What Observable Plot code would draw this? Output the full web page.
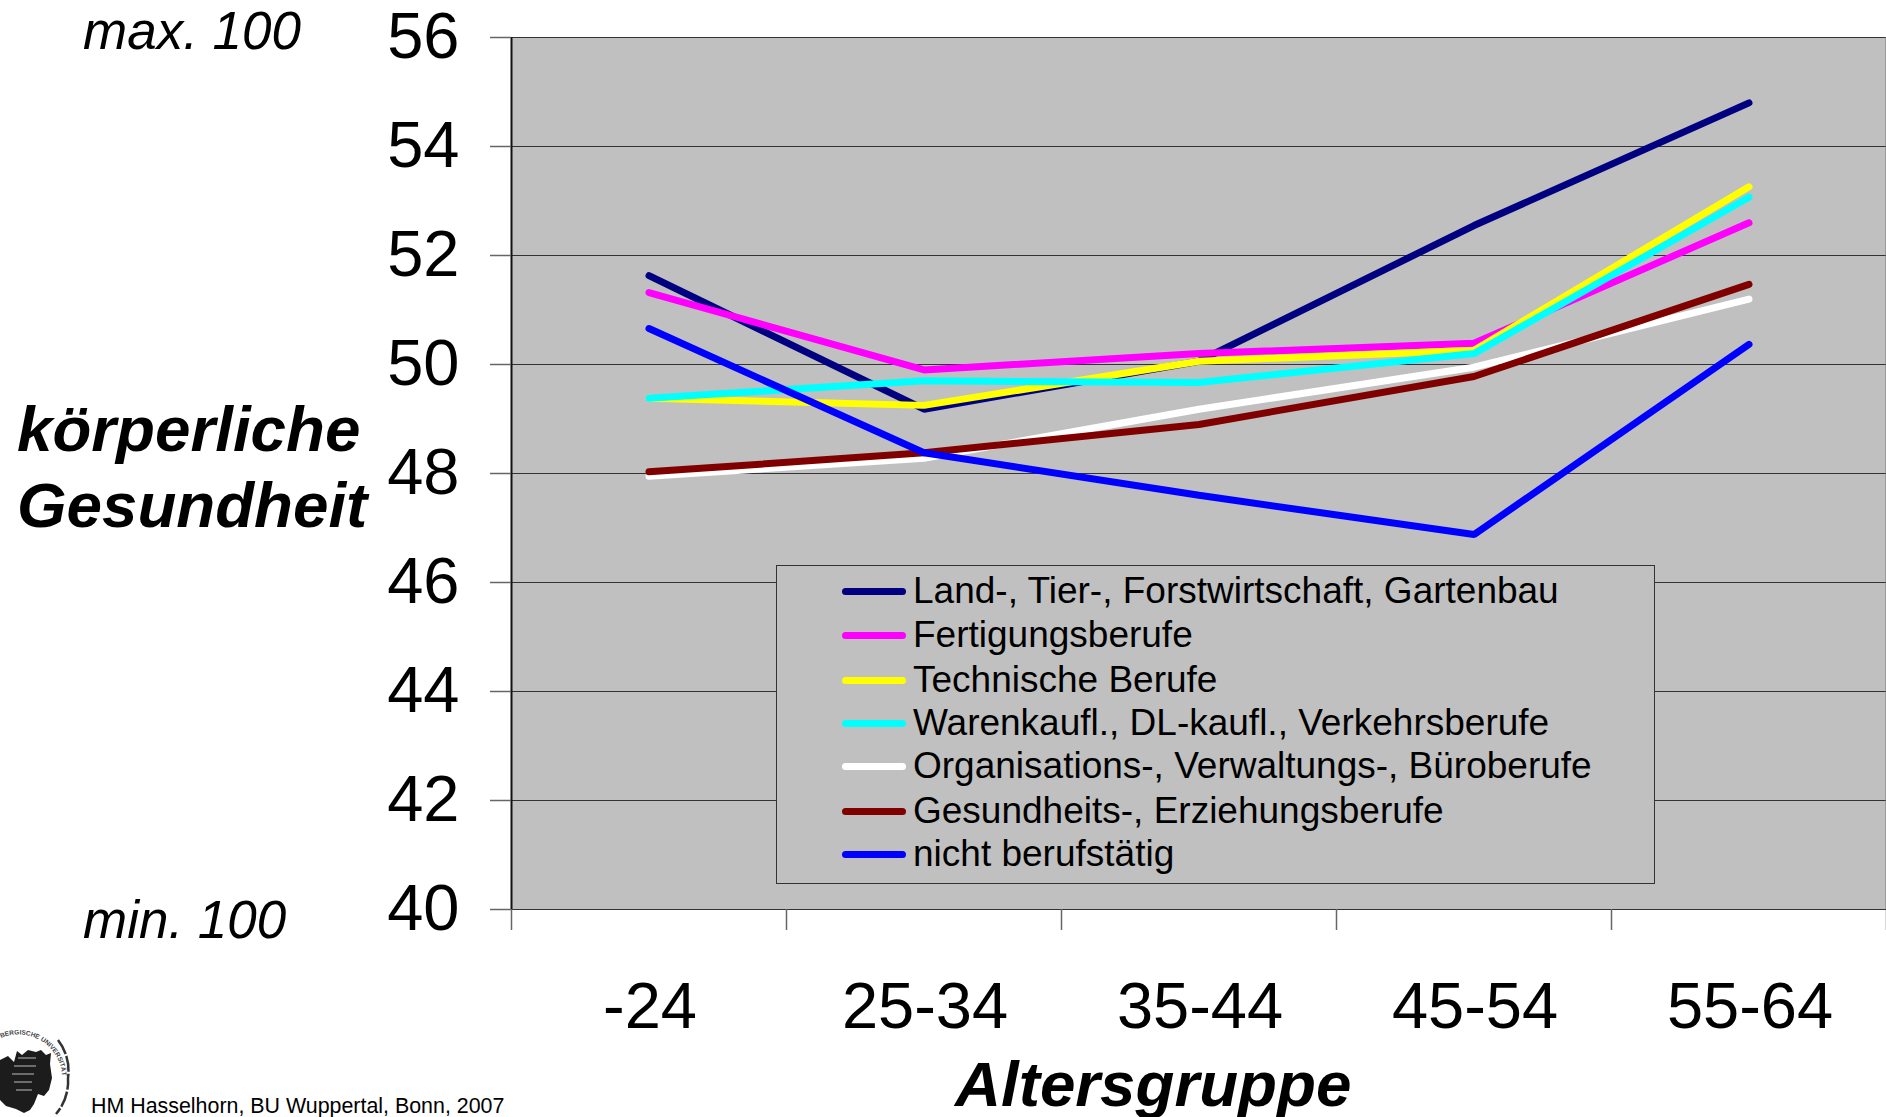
<!DOCTYPE html>
<html lang="de">
<head>
<meta charset="utf-8">
<script src="https://cdn.jsdelivr.net/npm/d3@7"></script>
<script src="https://cdn.jsdelivr.net/npm/@observablehq/plot@0.6"></script>
<style>
html,body{margin:0;padding:0;background:#fff;width:1886px;height:1117px;overflow:hidden;font-family:"Liberation Sans",Arial,sans-serif;color:#000}
#wrap{position:relative;width:1886px;height:1117px}
#wrap svg{display:block}
.t{position:absolute;white-space:nowrap;line-height:1}
.bi{font-weight:bold;font-style:italic;font-size:63.7px}
.i{font-style:italic;font-size:53px}
#legend{position:absolute;left:776px;top:565px;width:879px;height:319px;border:1.5px solid #333;box-sizing:border-box;background:#c0c0c0}
.row{position:absolute;left:65px;height:44px;display:flex;align-items:center;font-size:37px;white-space:nowrap}
.sw{width:64px;height:7px;border-radius:4px;margin-right:7px;flex:none}
</style>
</head>
<body>
<div id="wrap"></div>
<script>
const ageGroups = ["-24", "25-34", "35-44", "45-54", "55-64"];
const yTicks = [40, 42, 44, 46, 48, 50, 52, 54, 56];
const land = [51.63, 49.18, 50.06, 52.55, 54.8];
const fertigung = [51.32, 49.9, 50.2, 50.39, 52.6];
const technik = [49.38, 49.25, 50.06, 50.26, 53.26];
const waren = [49.38, 49.7, 49.67, 50.2, 53.07];
const organisation = [47.95, 48.28, 49.18, 49.95, 51.2];
const gesundheit = [48.03, 48.38, 48.9, 49.78, 51.47];
const nichtBerufstaetig = [50.66, 48.38, 47.6, 46.88, 50.37];
const seriesNames = ["Land-, Tier-, Forstwirtschaft, Gartenbau", "Fertigungsberufe", "Technische Berufe", "Warenkaufl., DL-kaufl., Verkehrsberufe", "Organisations-, Verwaltungs-, Büroberufe", "Gesundheits-, Erziehungsberufe", "nicht berufstätig"];
const seriesValues = [land, fertigung, technik, waren, organisation, gesundheit, nichtBerufstaetig];
const seriesColors = ["#000080", "#ff00ff", "#ffff00", "#00ffff", "#ffffff", "#800000", "#0000ff"];

const idx = ageGroups.map((_, i) => i);
const bounds = [-0.5, 0.5, 1.5, 2.5, 3.5, 4.5];

const chart = Plot.plot({
  width: 1886, height: 1117,
  marginLeft: 511, marginRight: 0, marginTop: 37, marginBottom: 208,
  style: {fontFamily: '"Liberation Sans",Arial,sans-serif', background: "transparent", overflow: "visible"},
  x: {type: "linear", domain: [-0.5, 4.5], axis: null},
  y: {domain: [40, 56], axis: null},
  marks: [
    Plot.frame({fill: "#c0c0c0", stroke: null}),
    Plot.ruleY(yTicks, {stroke: "#333", strokeWidth: 1}),
    Plot.ruleX([-0.5], {stroke: "#111", strokeWidth: 2}),
    Plot.ruleX([4.5], {stroke: "#777", strokeWidth: 2}),
    Plot.axisY({ticks: yTicks, tickSize: 21, tickPadding: 31, fontSize: 65, stroke: "#666", strokeWidth: 1.5, color: "#000", label: null, tickFormat: d => String(d)}),
    Plot.axisX({ticks: bounds, tickSize: 21, tickFormat: () => "", stroke: "#666", strokeWidth: 1.5, label: null}),
    Plot.axisX({ticks: idx, tickSize: 0, tickPadding: 72, dx: 1, fontSize: 65, color: "#000", label: null, tickFormat: i => ageGroups[i]}),
    ...seriesValues.map((vals, s) => Plot.line(idx, {
      x: i => i, y: i => vals[i], stroke: seriesColors[s], strokeWidth: 7, strokeLinecap: "round", strokeLinejoin: "miter", curve: "linear"
    }))
  ]
});
const wrap = document.getElementById("wrap");
wrap.appendChild(chart);

function addText(txt, cls, left, top, extra) {
  const d = document.createElement("div");
  d.className = "t " + cls;
  d.textContent = txt;
  d.style.left = left + "px";
  d.style.top = top + "px";
  if (extra) Object.assign(d.style, extra);
  wrap.appendChild(d);
}
addText("max. 100", "i", 83, 4);
addText("min. 100", "i", 83, 893);
addText("körperliche", "bi", 17, 397);
addText("Gesundheit", "bi", 17, 473);
addText("Altersgruppe", "bi", 955, 1052);
addText("HM Hasselhorn, BU Wuppertal, Bonn, 2007", "", 91, 1096, {fontSize: "21.4px"});

const legend = document.createElement("div");
legend.id = "legend";
const rowCenters = [591, 635, 680, 723, 766, 811, 854];
seriesNames.forEach((name, i) => {
  const r = document.createElement("div");
  r.className = "row";
  r.style.top = (rowCenters[i] - 565 - 22 - 1) + "px";
  const sw = document.createElement("span");
  sw.className = "sw";
  sw.style.background = seriesColors[i];
  r.appendChild(sw);
  r.appendChild(document.createTextNode(name));
  legend.appendChild(r);
});
wrap.appendChild(legend);

// University seal, bottom-left, cut off by the page edge
const ns = "http://www.w3.org/2000/svg";
const logo = document.createElementNS(ns, "svg");
logo.setAttribute("width", "80");
logo.setAttribute("height", "95");
logo.setAttribute("style", "position:absolute;left:0;top:1022px");
logo.innerHTML = `
<defs><path id="ringp" d="M 1 16 A 44 44 0 0 1 62 52"/></defs>
<text font-size="6.5" font-weight="bold" fill="#444" font-family="Liberation Sans"><textPath href="#ringp" textLength="84">BERGISCHE UNIVERSITÄT</textPath></text>
<path d="M 58 18 A 50 50 0 0 1 68 56 A 50 50 0 0 1 56 92" fill="none" stroke="#333" stroke-width="2.5" stroke-dasharray="16 2"/>
<path d="M 0 38 L 8 34 L 14 40 L 17 29 L 22 33 L 28 28 L 36 30 L 41 28 L 46 33 L 51 31 L 50 42 L 52 56 L 49 68 L 44 74 L 38 72 L 34 82 L 30 88 L 24 91 L 16 87 L 6 84 L 0 78 Z" fill="#1c1c1c"/>
<g stroke="#bbb" stroke-width="1.2"><path d="M18 36H36M14 44H36M12 52H34M14 60H32M16 68H32"/></g>`;
wrap.appendChild(logo);
</script>
</body>
</html>
